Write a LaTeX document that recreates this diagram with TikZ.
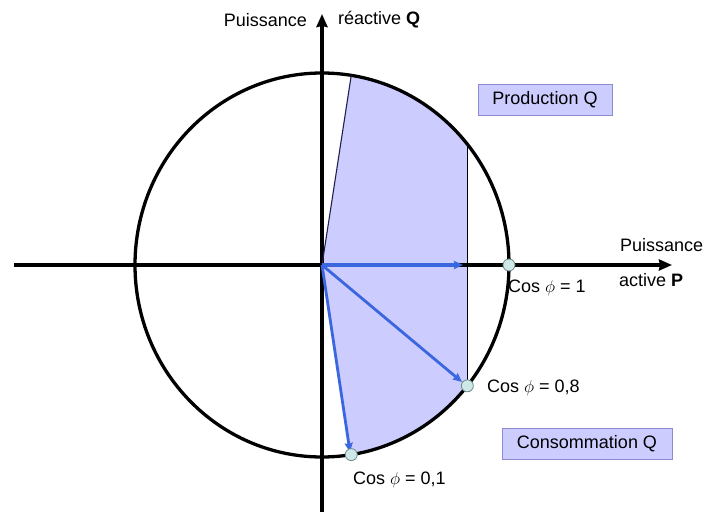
\documentclass[tikz,border=0pt]{standalone}
\usepackage{fontspec}
\setmainfont{Liberation Sans}
\usetikzlibrary{arrows.meta}
\definecolor{lav}{HTML}{CCCCFF}
\definecolor{lavedge}{HTML}{8C8CD0}
\definecolor{arrblue}{HTML}{3A66E0}
\definecolor{dotfill}{HTML}{CDE8E6}
\definecolor{dotedge}{HTML}{6E8A8A}
\definecolor{navy}{HTML}{202050}
\tikzset{
  axis/.style={line width=3.2pt,-{Stealth[length=13pt,width=11pt,inset=1pt]}},
  vec/.style={line width=2.8pt,arrblue,-{Stealth[length=9pt,width=8pt,inset=1pt]}},
  ptdot/.style={circle,fill=dotfill,draw=dotedge,line width=0.8pt,minimum size=12pt,inner sep=0pt},
  lbl/.style={font=\fontsize{18}{20}\selectfont,inner sep=0pt},
  tagbox/.style={lbl,fill=lav,draw=lavedge,line width=0.8pt,minimum height=31pt}
}
\begin{document}
\begin{tikzpicture}[x=1pt,y=1pt]
\useasboundingbox (-322,-257) rectangle (387,265);
\coordinate (O) at (0,0);
\coordinate (A) at ({187*cos(81)},{192*sin(81)});
\coordinate (B) at ({187*cos(39)},{192*sin(39)});
\coordinate (C) at ({187*cos(-39)},{192*sin(-39)});
\coordinate (D) at ({187*cos(-81)},{192*sin(-81)});
\coordinate (E) at (187,0);
% shaded region
\fill[lav] (O) -- (A) arc[start angle=81,end angle=39,x radius=187,y radius=192]
  -- (C) arc[start angle=-39,end angle=-81,x radius=187,y radius=192] -- cycle;
% circle
\draw[line width=3.3pt] (O) ellipse[x radius=187,y radius=192];
% axes
\coordinate (vb) at (0,-247);
\coordinate (vt) at (0,251);
\coordinate (hl) at (-308,0);
\coordinate (hr) at (350,0);
\draw[axis] (vb) -- (vt);
\draw[axis] (hl) -- (hr);
% thin lines
\draw[navy,line width=1.1pt] (O) -- (A);
\draw[black,line width=1.3pt] (B) -- (C);
% vectors
\coordinate (e1) at (141,0);
\coordinate (e2) at (140,-117);
\coordinate (e3) at (28,-187);
\draw[vec,line width=3.2pt] (O) -- (e1);
\draw[vec] (O) -- (e2);
\draw[vec] (O) -- (e3);
% dots
\node[ptdot] (p1) at (E) {};
\node[ptdot] (p2) at (C) {};
\node[ptdot] (p3) at (D) {};
% labels
\node[lbl,anchor=east] (ql) at (-15,245) {Puissance};
\node[lbl,anchor=west] (qr) at (16,245) {réactive \textbf{Q}};
\node[lbl,anchor=west] (pl) at (298,20) {Puissance};
\node[lbl,anchor=west] (pr) at (297,-15) {active \textbf{P}};
\node[lbl,anchor=west] (c1) at (186,-23) {Cos $\phi$ = 1};
\node[lbl,anchor=west] (c2) at (165,-123) {Cos $\phi$ = 0,8};
\node[lbl,anchor=west] (c3) at (31,-215) {Cos $\phi$ = 0,1};
\node[tagbox,minimum width=134pt] (prod) at (223,165) {Production Q};
\node[tagbox,minimum width=170pt] (cons) at (265,-178.5) {Consommation Q};
\end{tikzpicture}
\end{document}
